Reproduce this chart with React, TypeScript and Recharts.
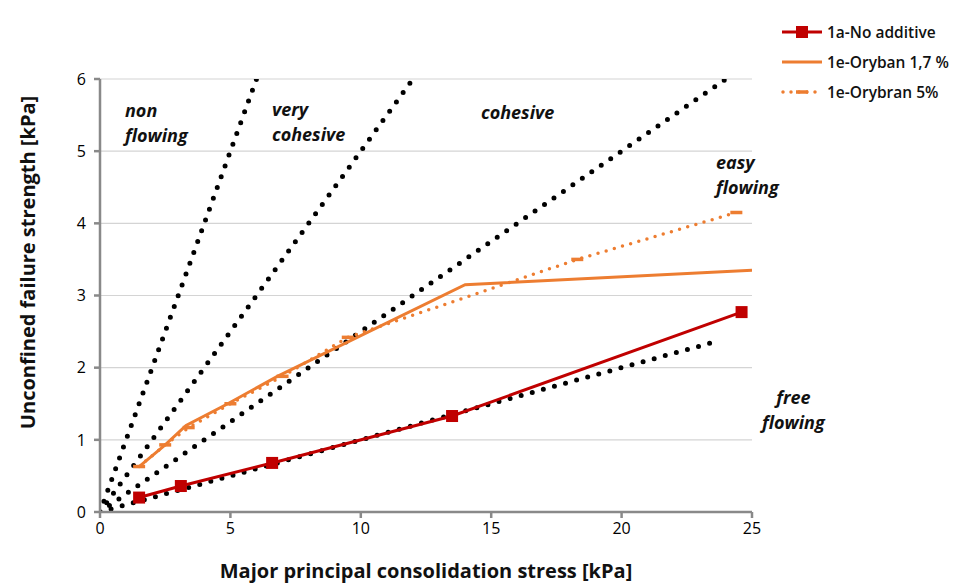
import React from 'react';
import { ComposedChart, Line, XAxis, YAxis, CartesianGrid, Label } from 'recharts';

const xTicks = [0, 5, 10, 15, 20, 25];
const yTicks = [0, 1, 2, 3, 4, 5, 6];

const noAdditiveX = [1.5, 3.1, 6.6, 13.5, 24.6];
const noAdditiveY = [0.2, 0.36, 0.68, 1.33, 2.77];

const oryban17X = [1.5, 2.5, 3.3, 4.9, 6.8, 14.0, 25];
const oryban17Y = [0.63, 0.93, 1.2, 1.5, 1.88, 3.15, 3.35];

const oryban5X = [1.5, 2.5, 3.4, 5.0, 7.0, 9.5, 18.3, 24.4];
const oryban5Y = [0.63, 0.93, 1.17, 1.5, 1.88, 2.42, 3.5, 4.15];

// flowability boundaries ffc = 1, 2, 4, 10
const ffcX = [[0, 6], [0, 12], [0, 24], [0, 23.7]];
const ffcY = [[0, 6], [0, 6], [0, 6], [0, 2.37]];

const regionLabels = [
  { lines: ['non', 'flowing'], left: 125, top: 98, align: 'left' },
  { lines: ['very', 'cohesive'], left: 272, top: 97, align: 'left' },
  { lines: ['cohesive'], left: 481, top: 100, align: 'left' },
  { lines: ['easy', 'flowing'], left: 716, top: 150, align: 'left' },
  { lines: ['free', 'flowing'], left: 762, top: 385, align: 'center' },
];

const toPoints = (xs: number[], ys: number[]) => xs.map((x, i) => ({ x, y: ys[i] }));

const RED = '#C00000';
const ORANGE = '#ED7D31';
const FONT = 'Open Sans, sans-serif';

const SquareDot = (props: any) => {
  const { cx, cy } = props;
  if (cx == null || cy == null) return null;
  return <rect x={cx - 6} y={cy - 6} width={12} height={12} fill={RED} />;
};

const DashDot = (props: any) => {
  const { cx, cy } = props;
  if (cx == null || cy == null) return null;
  return <rect x={cx - 6} y={cy - 1.75} width={12} height={3.5} fill={ORANGE} />;
};

const LegendBox = () => (
  <div style={{ position: 'absolute', left: 780, top: 17, fontFamily: FONT, fontSize: 15.5, fontWeight: 600, color: '#111' }}>
    <div style={{ display: 'flex', alignItems: 'center', height: 30 }}>
      <svg width={44} height={14}>
        <line x1={2} x2={42} y1={7} y2={7} stroke={RED} strokeWidth={3} />
        <rect x={16} y={1} width={12} height={12} fill={RED} />
      </svg>
      <span style={{ marginLeft: 3 }}>1a-No additive</span>
    </div>
    <div style={{ display: 'flex', alignItems: 'center', height: 30 }}>
      <svg width={44} height={14}>
        <line x1={2} x2={42} y1={7} y2={7} stroke={ORANGE} strokeWidth={3} />
      </svg>
      <span style={{ marginLeft: 3 }}>1e-Oryban 1,7 %</span>
    </div>
    <div style={{ display: 'flex', alignItems: 'center', height: 30 }}>
      <svg width={44} height={14}>
        <line x1={3} x2={42} y1={7} y2={7} stroke={ORANGE} strokeWidth={3.5} strokeDasharray="0 8" strokeLinecap="round" />
        <rect x={16} y={5.25} width={12} height={3.5} fill={ORANGE} />
      </svg>
      <span style={{ marginLeft: 3 }}>1e-Orybran 5%</span>
    </div>
  </div>
);

export default function App() {
  return (
    <div style={{ position: 'absolute', left: 0, top: 0, width: 954, height: 587, background: '#fff' }}>
      <ComposedChart width={954} height={587} margin={{ top: 79, right: 202, bottom: 9, left: 60 }}>
        <CartesianGrid vertical={false} stroke="#d4d4d4" strokeWidth={1.2} />
        <XAxis
          type="number"
          dataKey="x"
          domain={[0, 25]}
          ticks={xTicks}
          allowDataOverflow
          height={66}
          stroke="#898989"
          strokeWidth={2.5}
          tickSize={6}
          tickMargin={5}
          tick={{ fontFamily: FONT, fontSize: 16, fontWeight: 500, fill: '#000' }}
        >
          <Label
            value="Major principal consolidation stress [kPa]"
            position="insideBottom"
            offset={0}
            style={{ fontFamily: FONT, fontSize: 20, fontWeight: 700, fill: '#111' }}
          />
        </XAxis>
        <YAxis
          type="number"
          domain={[0, 6]}
          ticks={yTicks}
          allowDataOverflow
          width={40}
          stroke="#898989"
          strokeWidth={2.5}
          tickSize={6}
          tickMargin={8}
          tick={{ fontFamily: FONT, fontSize: 16, fontWeight: 500, fill: '#000' }}
        >
          <Label
            content={(p: any) => {
              const vb = p.viewBox;
              const cx = vb.x - 30;
              const cy = vb.y + vb.height / 2 - 33;
              return (
                <text
                  x={cx}
                  y={cy}
                  transform={`rotate(-90, ${cx}, ${cy})`}
                  textAnchor="middle"
                  dominantBaseline="middle"
                  style={{ fontFamily: FONT, fontSize: 20, fontWeight: 700, fill: '#111' }}
                >
                  Unconfined failure strength [kPa]
                </text>
              );
            }}
          />
        </YAxis>
        {ffcX.map((xs, i) => (
          <Line
            key={`ffc-${i}`}
            data={toPoints(xs, ffcY[i])}
            dataKey="y"
            type="linear"
            stroke="#000"
            strokeWidth={5}
            strokeDasharray="0 11.5"
            strokeLinecap="round"
            dot={false}
            legendType="none"
            isAnimationActive={false}
          />
        ))}
        <Line
          data={toPoints(oryban5X, oryban5Y)}
          dataKey="y"
          name="1e-Orybran 5%"
          type="linear"
          stroke={ORANGE}
          strokeWidth={3.5}
          strokeDasharray="0 8.5"
          strokeLinecap="round"
          dot={<DashDot />}
          isAnimationActive={false}
        />
        <Line
          data={toPoints(oryban17X, oryban17Y)}
          dataKey="y"
          name="1e-Oryban 1,7 %"
          type="linear"
          stroke={ORANGE}
          strokeWidth={3}
          dot={false}
          isAnimationActive={false}
        />
        <Line
          data={toPoints(noAdditiveX, noAdditiveY)}
          dataKey="y"
          name="1a-No additive"
          type="linear"
          stroke={RED}
          strokeWidth={3}
          dot={<SquareDot />}
          isAnimationActive={false}
        />
      </ComposedChart>
      <LegendBox />
      {regionLabels.map((r, i) => (
        <div
          key={i}
          style={{
            position: 'absolute',
            left: r.left,
            top: r.top,
            fontFamily: FONT,
            fontSize: 18,
            fontWeight: 700,
            fontStyle: 'italic',
            lineHeight: '25px',
            textAlign: r.align as any,
            color: '#111',
          }}
        >
          {r.lines.map((l) => (
            <div key={l}>{l}</div>
          ))}
        </div>
      ))}
    </div>
  );
}
